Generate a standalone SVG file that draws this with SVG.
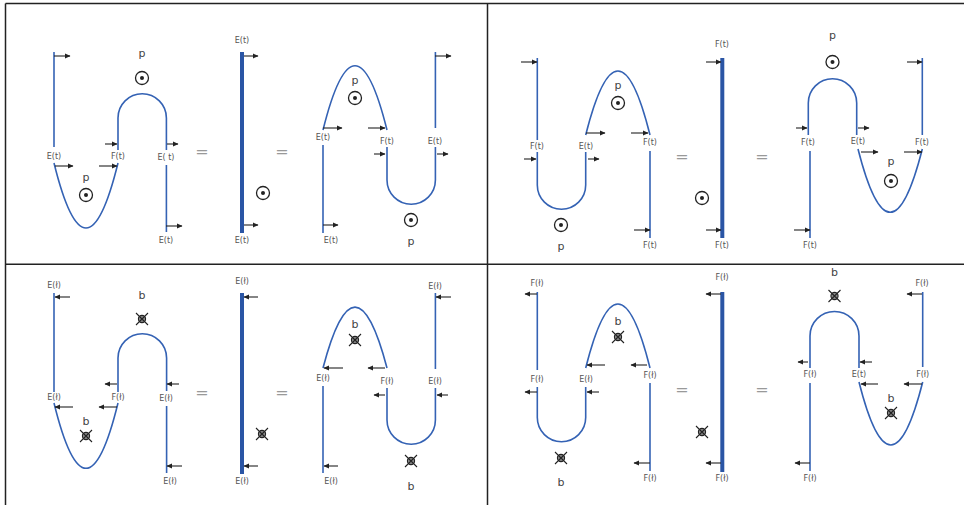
<svg xmlns="http://www.w3.org/2000/svg" width="964" height="505" viewBox="0 0 964 505">
<style>
.w{fill:none;stroke:#3462b4;stroke-width:1.6}
.tk{fill:none;stroke:#2a55a5;stroke-width:4}
.a{stroke:#222;stroke-width:1.1;marker-end:url(#ah)}
.l{font-family:"DejaVu Sans","Liberation Sans",sans-serif;font-size:8px;fill:#555;text-anchor:middle}
.s{font-family:"DejaVu Sans","Liberation Sans",sans-serif;font-size:11px;fill:#444;text-anchor:middle}
.eq{font-family:"DejaVu Sans","Liberation Sans",sans-serif;font-size:16px;fill:#999;text-anchor:middle}
.c{fill:none;stroke:#222;stroke-width:1.3}
.f{stroke:#222;stroke-width:1.1}
.fr{stroke:#222;stroke-width:1.5;fill:none}
</style>
<defs>
<marker id="ah" markerWidth="6" markerHeight="6" refX="5" refY="3" orient="auto" markerUnits="userSpaceOnUse">
<path d="M0,0.6 L5.5,3 L0,5.4 z" fill="#222"/>
</marker>
<g id="od"><circle r="6.5" class="c"/><circle r="2" fill="#222"/></g>
<g id="ox"><circle r="3.6" fill="#888" stroke="#222" stroke-width="1.1"/><path d="M-6,-6 L6,6 M6,-6 L-6,6" class="f"/></g>
</defs>
<rect width="964" height="505" fill="#fff"/>
<g id="frame">
<path d="M5.5,3.5 H964 M5.5,3.5 V505 M487.5,3.5 V505 M5.5,264.3 H964" class="fr"/>
</g>

<!-- Panel 1 -->
<g id="panel1-wires">
<path class="w" d="M54,52 V147"/>
<path class="w" d="M54,163 Q86,293 118,163"/>
<path class="w" d="M118,150 V118 A24.2,24.2 0 0 1 166.4,118 V150"/>
<path class="w" d="M166.4,165 V232"/>
<path class="tk" d="M242,52 V233"/>
<path class="w" d="M323,145 V233"/>
<path class="w" d="M323,130 Q355,1.4 387,130"/>
<path class="w" d="M387,147 V180 A24.2,24.2 0 0 0 435.4,180 V147"/>
<path class="w" d="M435.4,128 V52"/>
</g>
<g id="panel1-arrows">
<line class="a" x1="54" y1="56" x2="70" y2="56"/>
<line class="a" x1="105" y1="144" x2="117" y2="144"/>
<line class="a" x1="167" y1="144" x2="178" y2="144"/>
<line class="a" x1="55" y1="166" x2="73" y2="166"/>
<line class="a" x1="99" y1="166" x2="117" y2="166"/>
<line class="a" x1="166" y1="226" x2="182" y2="226"/>
<line class="a" x1="244" y1="56" x2="258" y2="56"/>
<line class="a" x1="244" y1="225" x2="258" y2="225"/>
<line class="a" x1="323" y1="225" x2="338" y2="225"/>
<line class="a" x1="323" y1="128" x2="342" y2="128"/>
<line class="a" x1="368" y1="128" x2="385" y2="128"/>
<line class="a" x1="374" y1="154" x2="385" y2="154"/>
<line class="a" x1="437" y1="154" x2="448" y2="154"/>
<line class="a" x1="435" y1="56" x2="451" y2="56"/>
</g>
<g id="panel1-labels">
<text class="l" x="54" y="158.5">E(t)</text>
<text class="l" x="118" y="158.5">F(t)</text>
<text class="l" x="166" y="159.5">E( t)</text>
<text class="l" x="166" y="242.5">E(t)</text>
<text class="l" x="242" y="42.5">E(t)</text>
<text class="l" x="242" y="242.5">E(t)</text>
<text class="l" x="323" y="139.5">E(t)</text>
<text class="l" x="331" y="242.5">E(t)</text>
<text class="l" x="387" y="143.5">F(t)</text>
<text class="l" x="435" y="143.5">E(t)</text>
<text class="s" x="142" y="56.5">p</text>
<text class="s" x="86" y="180.5">p</text>
<text class="s" x="355" y="83.5">p</text>
<text class="s" x="411" y="244.5">p</text>
<use href="#od" x="142" y="78"/>
<use href="#od" x="86" y="195"/>
<use href="#od" x="263" y="193"/>
<use href="#od" x="355" y="98"/>
<use href="#od" x="411" y="220"/>
<text class="eq" x="202" y="157">=</text>
<text class="eq" x="282" y="157">=</text>
</g>

<!-- Panel 2 -->
<g id="panel2-wires">
<path class="w" d="M537.3,58 V140"/>
<path class="w" d="M537.3,152 V185 A24.2,24.2 0 0 0 585.7,185 V152"/>
<path class="w" d="M585.7,135 Q618,7 650,135"/>
<path class="w" d="M650,151 V238"/>
<path class="tk" d="M722.3,58 V238"/>
<path class="w" d="M808.3,135 V103 A24.2,24.2 0 0 1 856.7,103 V135"/>
<path class="w" d="M810,151 V238"/>
<path class="w" d="M858,149 Q890.2,275.6 922.3,149"/>
<path class="w" d="M922.3,135 V58"/>
</g>
<g id="panel2-arrows">
<line class="a" x1="521" y1="62" x2="537" y2="62"/>
<line class="a" x1="524" y1="159" x2="536" y2="159"/>
<line class="a" x1="588" y1="159" x2="599" y2="159"/>
<line class="a" x1="586" y1="133" x2="605" y2="133"/>
<line class="a" x1="631" y1="133" x2="648" y2="133"/>
<line class="a" x1="634" y1="230" x2="650" y2="230"/>
<line class="a" x1="706" y1="62" x2="721" y2="62"/>
<line class="a" x1="706" y1="230" x2="721" y2="230"/>
<line class="a" x1="796" y1="128" x2="807" y2="128"/>
<line class="a" x1="858" y1="128" x2="869" y2="128"/>
<line class="a" x1="794" y1="230" x2="810" y2="230"/>
<line class="a" x1="861" y1="152" x2="878" y2="152"/>
<line class="a" x1="904" y1="152" x2="922" y2="152"/>
<line class="a" x1="907" y1="62" x2="922" y2="62"/>
</g>
<g id="panel2-labels">
<text class="l" x="537" y="148.5">F(t)</text>
<text class="l" x="586" y="148.5">E(t)</text>
<text class="l" x="650" y="144.5">F(t)</text>
<text class="l" x="650" y="247.5">F(t)</text>
<text class="l" x="722" y="46.5">F(t)</text>
<text class="l" x="722" y="247.5">F(t)</text>
<text class="l" x="808" y="144.5">F(t)</text>
<text class="l" x="858" y="143.5">E(t)</text>
<text class="l" x="922" y="144.5">F(t)</text>
<text class="l" x="810" y="247.5">F(t)</text>
<text class="s" x="618" y="88.5">p</text>
<text class="s" x="561" y="249.5">p</text>
<text class="s" x="832.5" y="38.5">p</text>
<text class="s" x="891" y="164.5">p</text>
<use href="#od" x="618" y="103"/>
<use href="#od" x="561" y="225"/>
<use href="#od" x="702" y="198"/>
<use href="#od" x="832.5" y="62"/>
<use href="#od" x="891" y="181"/>
<text class="eq" x="682" y="162">=</text>
<text class="eq" x="762" y="162">=</text>
</g>

<!-- Panel 3 -->
<g id="panel3-wires">
<path class="w" d="M54,293 V392"/>
<path class="w" d="M54,403 Q86,533.6 118,403"/>
<path class="w" d="M118,392 V358 A24.3,24.3 0 0 1 166.6,358 V391"/>
<path class="w" d="M166.6,406 V473"/>
<path class="tk" d="M242,293 V474"/>
<path class="w" d="M323,386 V473"/>
<path class="w" d="M323,368 Q355,246.3 387,368"/>
<path class="w" d="M387,388 V420 A24.2,24.2 0 0 0 435.4,420 V388"/>
<path class="w" d="M435.4,369 V293"/>
</g>
<g id="panel3-arrows">
<line class="a" x1="70" y1="297" x2="55" y2="297"/>
<line class="a" x1="117" y1="384" x2="105" y2="384"/>
<line class="a" x1="179" y1="384" x2="167" y2="384"/>
<line class="a" x1="73" y1="407" x2="55" y2="407"/>
<line class="a" x1="117" y1="407" x2="99" y2="407"/>
<line class="a" x1="182" y1="466" x2="167" y2="466"/>
<line class="a" x1="258" y1="297" x2="244" y2="297"/>
<line class="a" x1="258" y1="466" x2="244" y2="466"/>
<line class="a" x1="338" y1="466" x2="324" y2="466"/>
<line class="a" x1="343" y1="368" x2="324" y2="368"/>
<line class="a" x1="385" y1="368" x2="368" y2="368"/>
<line class="a" x1="385" y1="395" x2="374" y2="395"/>
<line class="a" x1="448" y1="395" x2="437" y2="395"/>
<line class="a" x1="451" y1="297" x2="436" y2="297"/>
</g>
<g id="panel3-labels">
<text class="l" x="54" y="287.5">E(ł)</text>
<text class="l" x="54" y="399.5">E(ł)</text>
<text class="l" x="118" y="399.5">F(ł)</text>
<text class="l" x="166" y="400.5">E(ł)</text>
<text class="l" x="170" y="483.5">E(ł)</text>
<text class="l" x="242" y="283.5">E(ł)</text>
<text class="l" x="242" y="483.5">E(ł)</text>
<text class="l" x="323" y="380.5">E(ł)</text>
<text class="l" x="331" y="483.5">E(ł)</text>
<text class="l" x="387" y="383.5">F(ł)</text>
<text class="l" x="435" y="383.5">E(ł)</text>
<text class="l" x="435" y="288.5">E(ł)</text>
<text class="s" x="142" y="299">b</text>
<text class="s" x="86" y="425">b</text>
<text class="s" x="355" y="328">b</text>
<text class="s" x="411" y="490">b</text>
<use href="#ox" x="142" y="319"/>
<use href="#ox" x="86" y="436"/>
<use href="#ox" x="262" y="434"/>
<use href="#ox" x="355" y="340"/>
<use href="#ox" x="411" y="461"/>
<text class="eq" x="202" y="398">=</text>
<text class="eq" x="282" y="398">=</text>
</g>

<!-- Panel 4 -->
<g id="panel4-wires">
<path class="w" d="M537.3,292 V370"/>
<path class="w" d="M537.3,387 V417.5 A24.2,24.2 0 0 0 585.7,417.5 V387"/>
<path class="w" d="M585.7,368 Q618,240 650,368"/>
<path class="w" d="M650,383 V471"/>
<path class="tk" d="M722.3,292 V472"/>
<path class="w" d="M810,368 V336 A24.5,24.5 0 0 1 859,336 V368"/>
<path class="w" d="M810,383 V471"/>
<path class="w" d="M859,382 Q890.8,508 922.7,382"/>
<path class="w" d="M922.7,367 V292"/>
</g>
<g id="panel4-arrows">
<line class="a" x1="537" y1="294" x2="525" y2="294"/>
<line class="a" x1="537" y1="392" x2="525" y2="392"/>
<line class="a" x1="599" y1="392" x2="587" y2="392"/>
<line class="a" x1="605" y1="365" x2="587" y2="365"/>
<line class="a" x1="647" y1="365" x2="631" y2="365"/>
<line class="a" x1="650" y1="463" x2="634" y2="463"/>
<line class="a" x1="721" y1="294" x2="706" y2="294"/>
<line class="a" x1="721" y1="463" x2="706" y2="463"/>
<line class="a" x1="808" y1="362" x2="798" y2="362"/>
<line class="a" x1="872" y1="362" x2="860" y2="362"/>
<line class="a" x1="810" y1="463" x2="795" y2="463"/>
<line class="a" x1="878" y1="384" x2="861" y2="384"/>
<line class="a" x1="922" y1="384" x2="904" y2="384"/>
<line class="a" x1="922" y1="294" x2="907" y2="294"/>
</g>
<g id="panel4-labels">
<text class="l" x="537" y="285.5">F(ł)</text>
<text class="l" x="537" y="381.5">F(ł)</text>
<text class="l" x="586" y="381.5">E(ł)</text>
<text class="l" x="650" y="377.5">F(ł)</text>
<text class="l" x="650" y="480.5">F(ł)</text>
<text class="l" x="722" y="279.5">F(ł)</text>
<text class="l" x="722" y="480.5">F(ł)</text>
<text class="l" x="810" y="376.5">F(ł)</text>
<text class="l" x="859" y="376.5">E(t)</text>
<text class="l" x="922.7" y="376.5">F(ł)</text>
<text class="l" x="922" y="285.5">F(ł)</text>
<text class="l" x="810" y="480.5">F(ł)</text>
<text class="s" x="618" y="325">b</text>
<text class="s" x="561" y="486">b</text>
<text class="s" x="834.5" y="276">b</text>
<text class="s" x="891" y="402">b</text>
<use href="#ox" x="618" y="337"/>
<use href="#ox" x="561" y="458"/>
<use href="#ox" x="702" y="432"/>
<use href="#ox" x="834.5" y="296"/>
<use href="#ox" x="891" y="413"/>
<text class="eq" x="682" y="395">=</text>
<text class="eq" x="762" y="395">=</text>
</g>
</svg>
